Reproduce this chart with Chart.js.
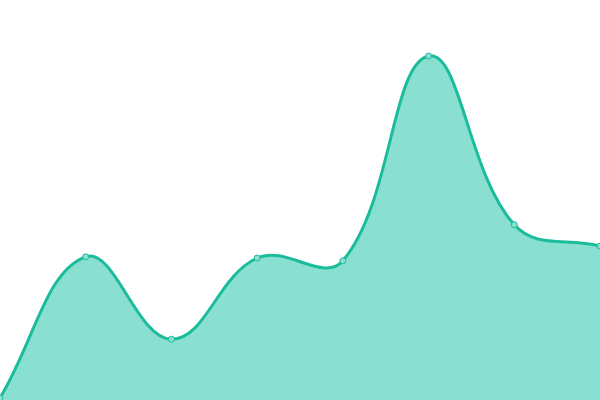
<!DOCTYPE html>
<html>
<head>
<meta charset="utf-8">
<script src="https://cdn.jsdelivr.net/npm/chart.js@4"></script>
<style>
    html, body { margin: 0; padding: 0; background: #fff; }
</style>
</head>
<body>
<canvas id="chart" width="600" height="400"></canvas>
<script>
const labels = ["1", "2", "3", "4", "5", "6", "7", "8"];
const values = [0.5, 35.8, 15.2, 35.5, 34.8, 86, 43.8, 38.5];

const ctx = document.getElementById("chart").getContext("2d");
new Chart(ctx, {
    type: "line",
    data: {
        labels: labels,
        datasets: [{
            data: values,
            borderColor: "#1abc9c",
            backgroundColor: "#89e0d0",
            borderWidth: 3,
            fill: true,
            tension: 0.4,
            pointRadius: 3,
            pointBorderWidth: 1,
            pointBackgroundColor: "#89e0d0",
            pointBorderColor: "#1abc9c"
        }]
    },
    options: {
        responsive: false,
        animation: false,
        devicePixelRatio: 1,
        layout: { padding: 0, autoPadding: false },
        plugins: {
            legend: { display: false },
            tooltip: { enabled: false }
        },
        scales: {
            x: { display: false },
            y: { display: false, min: 0, max: 100 }
        }
    }
});
</script>
</body>
</html>
